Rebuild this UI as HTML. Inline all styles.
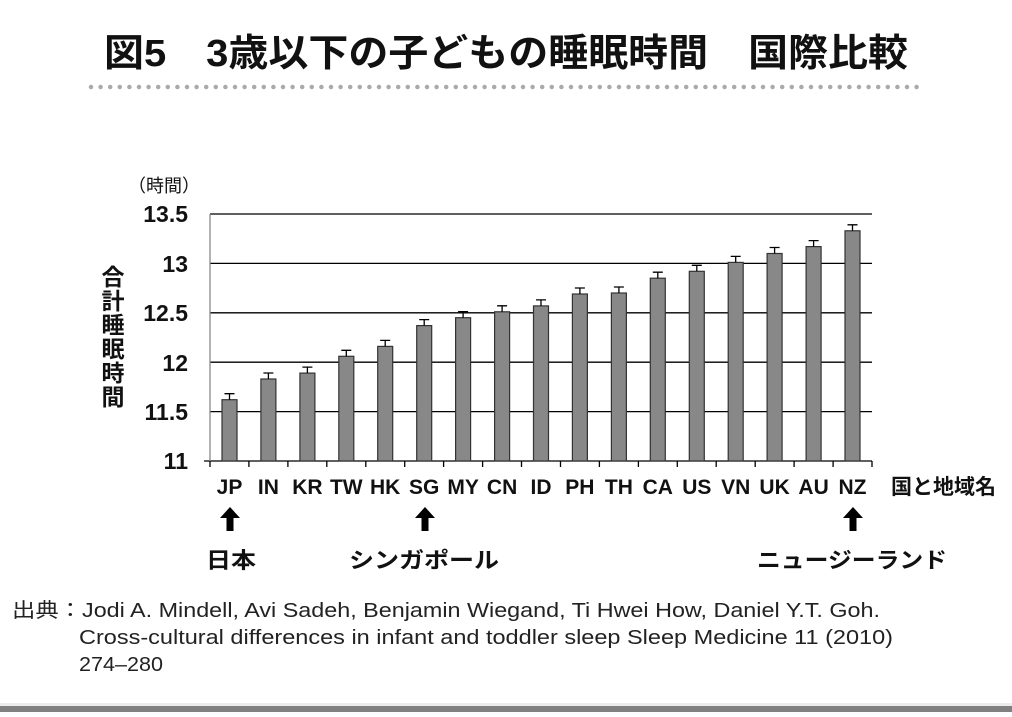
<!DOCTYPE html>
<html><head><meta charset="utf-8"><style>
body{margin:0;background:#fff;width:1012px;height:712px;overflow:hidden}
</style></head><body>
<svg width="1012" height="712" xmlns="http://www.w3.org/2000/svg" font-family="'Liberation Sans','Noto Sans CJK JP',sans-serif">
<text x="104" y="66" font-size="38" font-weight="bold" fill="#111" textLength="804" lengthAdjust="spacingAndGlyphs">図5　3歳以下の子どもの睡眠時間　国際比較</text>
<line x1="91" y1="87" x2="922" y2="87" stroke="#aaa" stroke-width="4.5" stroke-linecap="round" stroke-dasharray="0 9.6"/>
<text x="128" y="192" font-size="18" fill="#111">（時間）</text>
<g stroke="#000" stroke-width="1.3">
<line x1="210" y1="214" x2="872" y2="214"/><line x1="210" y1="263.4" x2="872" y2="263.4"/>
<line x1="210" y1="312.8" x2="872" y2="312.8"/><line x1="210" y1="362.2" x2="872" y2="362.2"/>
<line x1="210" y1="411.6" x2="872" y2="411.6"/><line x1="204" y1="461" x2="872" y2="461"/>
</g>
<line x1="210" y1="214" x2="210" y2="461" stroke="#888" stroke-width="1.3"/>
<g font-size="23" font-weight="bold" text-anchor="end" fill="#111">
<text x="188" y="222">13.5</text><text x="188" y="272">13</text><text x="188" y="321">12.5</text>
<text x="188" y="371">12</text><text x="188" y="420">11.5</text><text x="188" y="469">11</text>
</g>
<g font-size="23" font-weight="bold" fill="#111" text-anchor="middle">
<text x="113" y="285">合</text><text x="113" y="309">計</text><text x="113" y="333">睡</text>
<text x="113" y="357">眠</text><text x="113" y="381">時</text><text x="113" y="405">間</text>
</g>
<g fill="#888" stroke="#333" stroke-width="1.2">
<rect x="222" y="399.7" width="15" height="61.3"/>
<rect x="260.9" y="379" width="15" height="82"/>
<rect x="299.9" y="373.1" width="15" height="87.9"/>
<rect x="338.8" y="356.3" width="15" height="104.7"/>
<rect x="377.7" y="346.4" width="15" height="114.6"/>
<rect x="416.7" y="325.6" width="15" height="135.4"/>
<rect x="455.6" y="317.7" width="15" height="143.3"/>
<rect x="494.6" y="311.8" width="15" height="149.2"/>
<rect x="533.5" y="305.9" width="15" height="155.1"/>
<rect x="572.4" y="294" width="15" height="167"/>
<rect x="611.4" y="293" width="15" height="168"/>
<rect x="650.3" y="278.2" width="15" height="182.8"/>
<rect x="689.3" y="271.3" width="15" height="189.7"/>
<rect x="728.2" y="262.4" width="15" height="198.6"/>
<rect x="767.1" y="253.5" width="15" height="207.5"/>
<rect x="806.1" y="246.6" width="15" height="214.4"/>
<rect x="845" y="230.8" width="15" height="230.2"/>
</g>
<g stroke="#000" stroke-width="1.3" fill="none">
<path d="M229.5 399.7v-6m-5 0h10"/>
<path d="M268.4 379v-6m-5 0h10"/>
<path d="M307.4 373.1v-6m-5 0h10"/>
<path d="M346.3 356.3v-6m-5 0h10"/>
<path d="M385.2 346.4v-6m-5 0h10"/>
<path d="M424.2 325.6v-6m-5 0h10"/>
<path d="M463.1 317.7v-6m-5 0h10"/>
<path d="M502.1 311.8v-6m-5 0h10"/>
<path d="M541 305.9v-6m-5 0h10"/>
<path d="M579.9 294v-6m-5 0h10"/>
<path d="M618.9 293v-6m-5 0h10"/>
<path d="M657.8 278.2v-6m-5 0h10"/>
<path d="M696.8 271.3v-6m-5 0h10"/>
<path d="M735.7 262.4v-6m-5 0h10"/>
<path d="M774.6 253.5v-6m-5 0h10"/>
<path d="M813.6 246.6v-6m-5 0h10"/>
<path d="M852.5 230.8v-6m-5 0h10"/>
<path d="M210 461v6M248.9 461v6M287.9 461v6M326.8 461v6M365.8 461v6M404.7 461v6M443.6 461v6M482.6 461v6M521.5 461v6M560.5 461v6M599.4 461v6M638.4 461v6M677.3 461v6M716.2 461v6M755.2 461v6M794.1 461v6M833.1 461v6M872 461v6"/>
</g>
<g font-size="21" font-weight="bold" text-anchor="middle" fill="#111">
<text x="229.5" y="494">JP</text><text x="268.4" y="494">IN</text><text x="307.4" y="494">KR</text>
<text x="346.3" y="494">TW</text><text x="385.2" y="494">HK</text><text x="424.2" y="494">SG</text>
<text x="463.1" y="494">MY</text><text x="502.1" y="494">CN</text><text x="541" y="494">ID</text>
<text x="579.9" y="494">PH</text><text x="618.9" y="494">TH</text><text x="657.8" y="494">CA</text>
<text x="696.8" y="494">US</text><text x="735.7" y="494">VN</text><text x="774.6" y="494">UK</text>
<text x="813.6" y="494">AU</text><text x="852.5" y="494">NZ</text>
</g>
<text x="891" y="494" font-size="21" font-weight="bold" fill="#111">国と地域名</text>
<g fill="#000">
<path d="M230 507 l-10 11 h6.5 v13 h7 v-13 h6.5 z"/>
<path d="M425 507 l-10 11 h6.5 v13 h7 v-13 h6.5 z"/>
<path d="M853 507 l-10 11 h6.5 v13 h7 v-13 h6.5 z"/>
</g>
<g font-size="22" font-weight="bold" fill="#111">
<text x="206" y="568" textLength="50" lengthAdjust="spacingAndGlyphs">日本</text>
<text x="349" y="568" textLength="150" lengthAdjust="spacingAndGlyphs">シンガポール</text>
<text x="757" y="568" textLength="190" lengthAdjust="spacingAndGlyphs">ニュージーランド</text>
</g>
<g font-size="20" fill="#222">
<text x="12" y="617" textLength="868" lengthAdjust="spacingAndGlyphs">出典：Jodi A. Mindell, Avi Sadeh, Benjamin Wiegand, Ti Hwei How, Daniel Y.T. Goh.</text>
<text x="79" y="644" textLength="814" lengthAdjust="spacingAndGlyphs">Cross-cultural differences in infant and toddler sleep Sleep Medicine 11 (2010)</text>
<text x="79" y="671" textLength="84" lengthAdjust="spacingAndGlyphs">274–280</text>
</g>
<rect x="0" y="703" width="1012" height="3" fill="#ececec"/>
<rect x="0" y="706" width="1012" height="6" fill="#808080"/>
</svg>
</body></html>
